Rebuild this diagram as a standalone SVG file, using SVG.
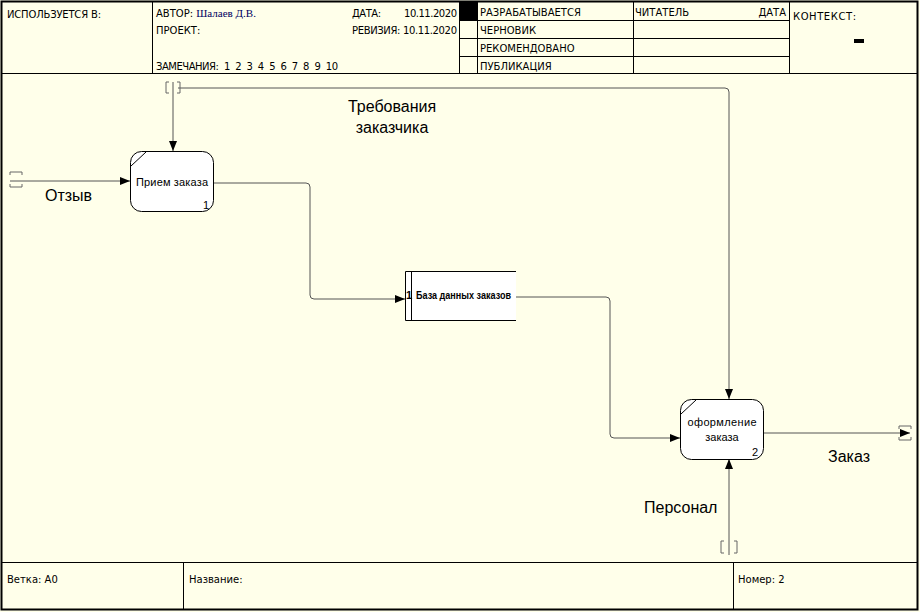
<svg xmlns="http://www.w3.org/2000/svg" width="920" height="612" viewBox="0 0 920 612">
<defs>
<style>
.hd{font-family:"DejaVu Sans","Liberation Sans",sans-serif;font-size:10px;fill:#000}
.lbl{font-family:"Liberation Sans",Arial,sans-serif;font-size:16px;fill:#000}
.bx{font-family:"Liberation Sans",Arial,sans-serif;font-size:11px;fill:#000}
.fr{fill:none;stroke:#000;stroke-width:1}
.cn{fill:none;stroke:#555;stroke-width:1}
.tn{fill:none;stroke:#666;stroke-width:1}
.node{fill:#fff;stroke:#000;stroke-width:1}
</style>
<marker id="ah" viewBox="0 0 10 8" refX="10" refY="4" markerWidth="10" markerHeight="8" markerUnits="userSpaceOnUse" orient="auto">
<path d="M0,0 L10,4 L0,8 z" fill="#000"/>
</marker>
</defs>
<rect x="0" y="0" width="920" height="612" fill="#FFFFEA"/>
<g id="frame">
<rect x="1.5" y="1.5" width="916" height="608" fill="none" stroke="#000" stroke-width="2"/>
<line class="fr" x1="1" y1="73.5" x2="918" y2="73.5" stroke-width="2"/>
<line class="fr" x1="152.5" y1="1" x2="152.5" y2="73"/>
<line class="fr" x1="459.5" y1="1" x2="459.5" y2="73"/>
<line class="fr" x1="477.5" y1="1" x2="477.5" y2="73"/>
<line class="fr" x1="633.5" y1="1" x2="633.5" y2="73"/>
<line class="fr" x1="789.5" y1="1" x2="789.5" y2="73"/>
<line class="fr" x1="459" y1="20.5" x2="789" y2="20.5"/>
<line class="fr" x1="459" y1="38.5" x2="789" y2="38.5"/>
<line class="fr" x1="459" y1="56.5" x2="789" y2="56.5"/>
<rect x="460" y="2" width="17" height="18" fill="#000"/>
<rect x="854" y="39" width="10" height="4" fill="#000"/>
<text class="hd" x="7" y="18" textLength="94">ИСПОЛЬЗУЕТСЯ В:</text>
<text class="hd" x="156" y="17">АВТОР: <tspan font-family="Liberation Serif,serif" font-size="11" fill="#000060">Шалаев Д.В.</tspan></text>
<text class="hd" x="156" y="34">ПРОЕКТ:</text>
<text class="hd" x="156" y="70" xml:space="preserve" textLength="182">ЗАМЕЧАНИЯ:  1  2  3  4  5  6  7  8  9  10</text>
<text class="hd" x="352" y="17" textLength="29">ДАТА:</text>
<text class="hd" x="404" y="17" textLength="53">10.11.2020</text>
<text class="hd" x="352" y="34" textLength="105">РЕВИЗИЯ: 10.11.2020</text>
<text class="hd" x="480" y="16">РАЗРАБАТЫВАЕТСЯ</text>
<text class="hd" x="480" y="34">ЧЕРНОВИК</text>
<text class="hd" x="480" y="52">РЕКОМЕНДОВАНО</text>
<text class="hd" x="480" y="70">ПУБЛИКАЦИЯ</text>
<text class="hd" x="635" y="16">ЧИТАТЕЛЬ</text>
<text class="hd" x="786" y="16" text-anchor="end">ДАТА</text>
<text class="hd" x="793" y="20" font-size="12" textLength="63">КОНТЕКСТ:</text>
<line class="fr" x1="1" y1="562.5" x2="918" y2="562.5" stroke-width="2"/>
<line class="fr" x1="183.5" y1="562" x2="183.5" y2="609"/>
<line class="fr" x1="733.5" y1="562" x2="733.5" y2="609"/>
<text class="hd" x="7" y="583">Ветка: A0</text>
<text class="hd" x="189" y="583">Название:</text>
<text class="hd" x="738" y="583">Номер: 2</text>
</g>
<g id="connectors">
<path class="cn" d="M173,82 V151" marker-end="url(#ah)"/>
<path class="cn" d="M178,88 H725 Q729,88 729,92 V399" marker-end="url(#ah)"/>
<path class="cn" d="M10,181 H130" marker-end="url(#ah)"/>
<path class="cn" d="M213,183 H306 Q310,183 310,187 V295 Q310,299 314,299 H405" marker-end="url(#ah)"/>
<path class="cn" d="M515,297 H606 Q610,297 610,301 V434 Q610,438 614,438 H680" marker-end="url(#ah)"/>
<path class="cn" d="M763,433 H910" marker-end="url(#ah)"/>
<path class="cn" d="M729,555 V459" marker-end="url(#ah)"/>
<path class="tn" d="M169,82 H166 V93 H169 M177,82 H180 V93 H177"/>
<path class="tn" d="M10,175 V172 H22 V175 M10,184 V187 H22 V184"/>
<path class="tn" d="M899,429 V426 H911 V429 M899,437 V440 H911 V437"/>
<path class="tn" d="M724,541 H721 V553 H724 M734,541 H737 V553 H734"/>
<text class="lbl" x="392" y="112" text-anchor="middle">Требования</text>
<text class="lbl" x="392" y="133" text-anchor="middle">заказчика</text>
<text class="lbl" x="45" y="201">Отзыв</text>
<text class="lbl" x="828" y="462">Заказ</text>
<text class="lbl" x="644" y="513">Персонал</text>
</g>
<g id="node1">
<rect class="node" x="130.5" y="151.5" width="83" height="60" rx="11"/>
<line class="fr" x1="131" y1="166" x2="146" y2="152"/>
<text class="bx" x="172" y="186" text-anchor="middle" textLength="72">Прием заказа</text>
<text class="bx" x="203" y="209">1</text>
</g>
<g id="node2">
<rect class="node" x="680.5" y="399.5" width="83" height="60" rx="11"/>
<line class="fr" x1="681" y1="414" x2="696" y2="400"/>
<text class="bx" x="722" y="426" text-anchor="middle" textLength="69">оформление</text>
<text class="bx" x="722" y="441" text-anchor="middle">заказа</text>
<text class="bx" x="752" y="456">2</text>
</g>
<g id="datastore">
<rect x="405" y="271" width="111" height="50" fill="#fff"/>
<path class="fr" d="M516,271.5 H405.5 V320.5 H516 M411.5,271 V321"/>
<text class="bx" x="406" y="299" font-size="8" font-weight="bold">1</text>
<text class="bx" x="416" y="299" font-size="8" font-weight="bold" textLength="95" lengthAdjust="spacingAndGlyphs">База данных заказов</text>
</g>
</svg>
